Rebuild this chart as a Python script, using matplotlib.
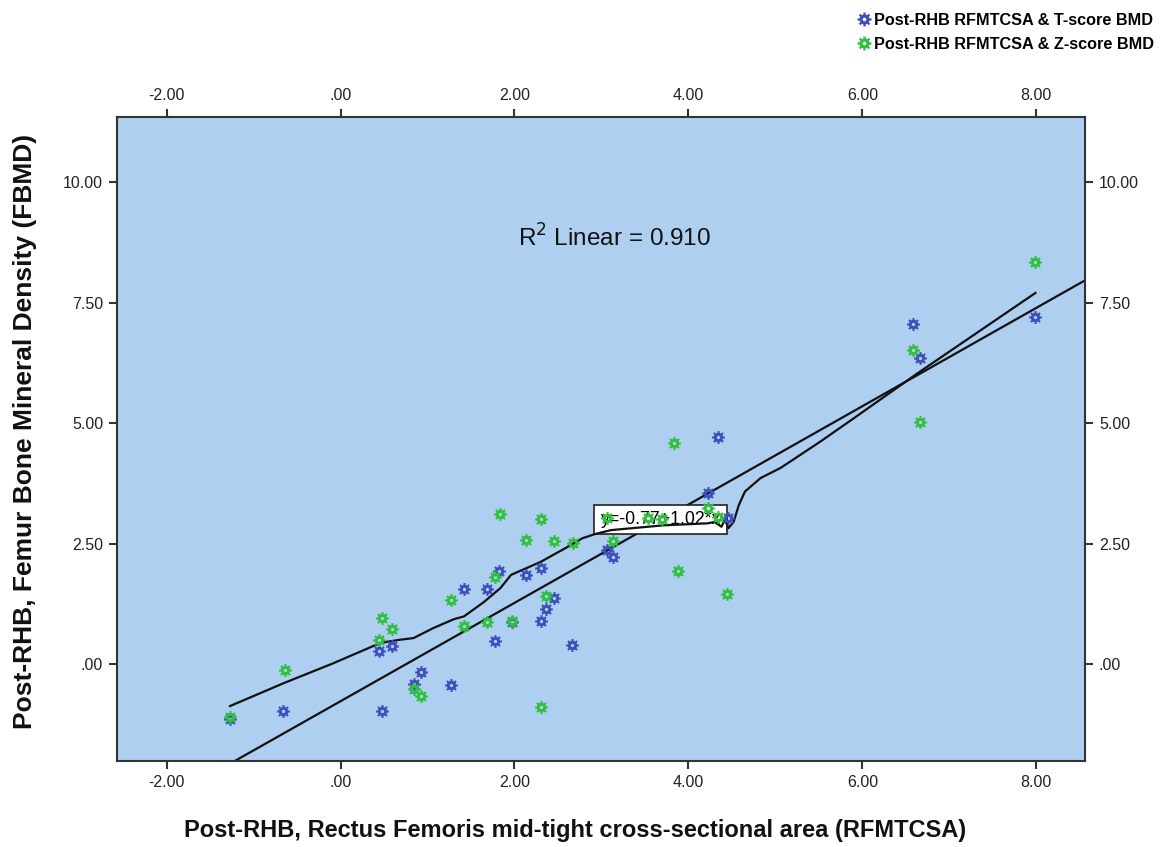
import numpy as np
import matplotlib
matplotlib.use("Agg")
import matplotlib.pyplot as plt
from matplotlib.path import Path
from matplotlib.lines import Line2D

plt.rcParams["font.family"] = ["Liberation Sans", "DejaVu Sans"]

# Post-RHB RFMTCSA & T-score BMD
t_x = [-1.27, -0.66, 0.48, 0.44, 0.59, 0.85, 0.92, 1.27, 1.42, 1.68, 1.78, 1.82, 1.97,
       2.13, 2.30, 2.30, 2.36, 2.45, 2.66, 3.06, 3.13, 4.23, 4.34, 4.45, 6.58, 6.66, 7.99]
t_y = [-1.14, -0.98, -0.98, 0.27, 0.37, -0.41, -0.17, -0.44, 1.56, 1.56, 0.48, 1.93, 0.87,
       1.85, 1.99, 0.89, 1.14, 1.37, 0.39, 2.37, 2.22, 3.55, 4.71, 3.03, 7.05, 6.35, 7.20]

# Post-RHB RFMTCSA & Z-score BMD
z_x = [-1.27, -0.64, 0.44, 0.48, 0.59, 0.85, 0.92, 1.27, 1.42, 1.68, 1.78, 1.83, 1.97,
       2.13, 2.30, 2.30, 2.36, 2.45, 2.67, 3.06, 3.13, 3.54, 3.70, 3.84, 3.88, 4.23, 4.34,
       4.44, 6.58, 6.66, 7.99]
z_y = [-1.10, -0.12, 0.50, 0.96, 0.73, -0.52, -0.66, 1.33, 0.79, 0.87, 1.80, 3.11, 0.90,
       2.57, 3.01, -0.89, 1.41, 2.55, 2.51, 3.03, 2.55, 3.03, 3.01, 4.59, 1.93, 3.24, 3.05,
       1.45, 6.51, 5.02, 8.34]

# loess-like fit curve
fit_x = [-1.27, -0.66, -0.08, 0.46, 0.66, 0.84, 1.07, 1.30, 1.42, 1.65, 1.84, 1.96, 2.30,
         2.61, 2.78, 2.93, 3.11, 3.72, 4.22, 4.30, 4.38, 4.42, 4.46, 4.52, 4.58, 4.65, 4.83,
         5.06, 5.52, 5.87, 6.64, 7.99]
fit_y = [-0.87, -0.40, 0.02, 0.44, 0.50, 0.54, 0.75, 0.93, 0.99, 1.29, 1.58, 1.85, 2.12,
         2.43, 2.61, 2.70, 2.78, 2.88, 2.92, 2.95, 2.85, 3.00, 2.82, 2.95, 3.30, 3.58, 3.86,
         4.07, 4.62, 5.06, 6.04, 7.70]

# linear fit y = a + b*x
intercept = -0.77
slope = 1.02
r2 = 0.910

x_ticks = [-2, 0, 2, 4, 6, 8]
y_ticks = [0, 2.5, 5, 7.5, 10]

blue = "#3c4fbd"
green = "#2fc03c"
bg = "#aecff0"


def gear_marker():
    # 8-tooth gear with a small hole in the middle
    verts = []
    for k in range(8):
        c = np.deg2rad(k * 45)
        for a, r in [(-22.5, 0.72), (-12, 0.72), (-10, 1.0), (10, 1.0), (12, 0.72)]:
            ang = c + np.deg2rad(a)
            verts.append((r * np.cos(ang), r * np.sin(ang)))
    codes = [Path.MOVETO] + [Path.LINETO] * (len(verts) - 1)
    verts.append((0, 0))
    codes.append(Path.CLOSEPOLY)
    inner = []
    for ang in np.linspace(0, -2 * np.pi, 17)[:-1]:
        inner.append((0.26 * np.cos(ang), 0.26 * np.sin(ang)))
    icodes = [Path.MOVETO] + [Path.LINETO] * (len(inner) - 1)
    inner.append((0, 0))
    icodes.append(Path.CLOSEPOLY)
    return Path(verts + inner, codes + icodes)


gear = gear_marker()


def fmt(v):
    s = f"{v:.2f}"
    if s.startswith("0."):
        s = s[1:]
    return s


fig = plt.figure(figsize=(11.65, 8.47), dpi=100)
ax = fig.add_axes([117 / 1165, 1 - 761 / 847, 968 / 1165, 644 / 847])
ax.set_facecolor(bg)
ax.set_xlim(-2.57, 8.56)
ax.set_ylim(-2.01, 11.35)

xs = np.array(ax.get_xlim())
ax.plot(xs, intercept + slope * xs, color="#111111", lw=1.6, zorder=2)
ax.plot(fit_x, fit_y, color="#111111", lw=1.6, zorder=4)

ax.scatter(t_x, t_y, marker=gear, s=85, color=blue, linewidths=0, zorder=5)
ax.scatter(z_x, z_y, marker=gear, s=85, color=green, linewidths=0, zorder=6)

ax.text(2.99, 3.0, f"y={intercept:.2f}+{slope:.2f}*x", fontsize=12.8, va="center", ha="left",
        zorder=3, bbox=dict(boxstyle="square,pad=0.36", fc="white", ec="#222222", lw=1.2))
ax.text(3.15, 8.84, r"R$^{2}$ Linear = " + f"{r2:.3f}", fontsize=17.5, ha="center", va="center",
        color="#111111")

ax.set_xticks(x_ticks)
ax.set_yticks(y_ticks)
ax.set_xticklabels([fmt(v) for v in x_ticks])
ax.set_yticklabels([fmt(v) for v in y_ticks])
ax.tick_params(axis="both", which="both", direction="out", length=6, width=1.5,
               color="#333333", labelsize=11.5, labelcolor="#222222", pad=4,
               top=True, right=True, labeltop=True, labelright=True)
for sp in ax.spines.values():
    sp.set_color("#333333")
    sp.set_linewidth(1.5)

fig.text(575 / 1165, 1 - 830 / 847, "Post-RHB, Rectus Femoris mid-tight cross-sectional area (RFMTCSA)",
         fontsize=17, fontweight="bold", ha="center", va="center", color="#111111")
fig.text(25 / 1165, 1 - 431 / 847, "Post-RHB, Femur Bone Mineral Density (FBMD)",
         fontsize=19, fontweight="bold", ha="center", va="center", rotation=90, color="#111111")

handles = [Line2D([], [], ls="none", marker=gear, ms=10, color=blue, mew=0),
           Line2D([], [], ls="none", marker=gear, ms=10, color=green, mew=0)]
labels = ["Post-RHB RFMTCSA & T-score BMD", "Post-RHB RFMTCSA & Z-score BMD"]
fig.legend(handles, labels, loc="upper right", bbox_to_anchor=(1.0, 0.998), frameon=False,
           prop={"size": 11.7, "weight": "bold"}, handletextpad=0.15, handlelength=0.9,
           labelspacing=0.55, borderaxespad=0.3)

fig.savefig("out.png", dpi=100)
